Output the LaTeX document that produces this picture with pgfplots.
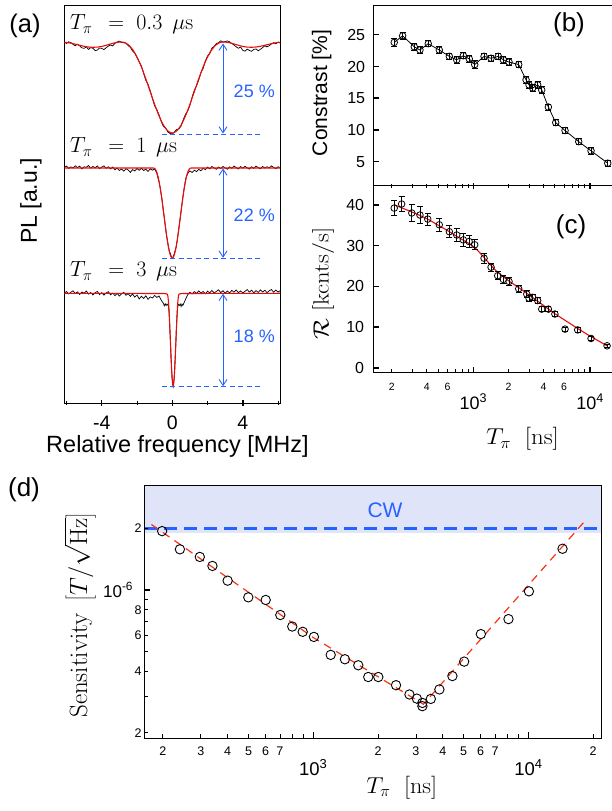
\RequirePackage{fix-cm}
\documentclass[border=0pt]{standalone}
\usepackage[no-math]{fontspec}
\setmainfont{Liberation Sans}
\usepackage{graphicx}
\usepackage{pgfplots}
\pgfplotsset{compat=1.18}
\usetikzlibrary{arrows.meta}
\definecolor{myblue}{RGB}{38,98,255}
\definecolor{cwfill}{RGB}{224,228,249}
\definecolor{fitred}{RGB}{235,10,10}
\definecolor{dashred}{RGB}{250,50,20}
\pgfplotsset{
 myax/.style={scale only axis, anchor=south west, axis line style={line width=0.9pt, black},
   tick style={black, line width=0.8pt}, tick label style={inner sep=0pt}},
}
\begin{document}
\begin{tikzpicture}[x=1pt,y=1pt]
\useasboundingbox (0,0) rectangle (611,811);

% ---------------- panel (a)
\begin{axis}[myax, at={(64pt,408pt)}, width=216pt, height=398pt,
 xmin=-6.14, xmax=6.11, ymin=-403, ymax=-5,
 xtick={-4,0,4}, xticklabels={-4,0,4}, minor xtick={-6,-2,2,6}, ytick=\empty,
 xtick pos=bottom, xtick align=center, major tick length=6pt, minor tick length=4pt,
 major tick style={line width=1.4pt}, minor tick style={line width=0.8pt},
 xticklabel style={font=\fontsize{19.5}{19.5}\selectfont}, xticklabel shift=10pt,
 clip=false]
\addplot[black, line width=0.7pt] coordinates {
(-6.12,-42.0) (-6.0,-43.5) (-5.875,-41.8) (-5.75,-42.6) (-5.625,-44.5) (-5.5,-45.7) (-5.375,-44.2) (-5.25,-45.8) (-5.125,-47.9) (-5.0,-48.3) (-4.875,-46.8) (-4.75,-49.5) (-4.625,-47.6) (-4.5,-48.3) (-4.375,-50.6) (-4.25,-50.1) (-4.125,-48.0) (-4.0,-48.4) (-3.875,-49.6) (-3.75,-47.8) (-3.625,-46.1) (-3.5,-45.0) (-3.375,-45.9) (-3.25,-43.3) (-3.125,-42.0) (-3.0,-41.1) (-2.875,-42.4) (-2.75,-42.8) (-2.625,-43.2) (-2.5,-45.6) (-2.375,-47.5) (-2.25,-51.0) (-2.125,-53.2) (-2.0,-57.5) (-1.875,-62.0) (-1.75,-66.0) (-1.625,-73.2) (-1.5,-80.4) (-1.375,-84.3) (-1.25,-90.7) (-1.125,-98.6) (-1.0,-105.9) (-0.875,-109.5) (-0.75,-114.9) (-0.625,-121.6) (-0.5,-126.6) (-0.375,-127.9) (-0.25,-132) (-0.125,-133.5) (0,-134) (0.125,-131.8) (0.25,-129.5) (0.375,-128.9) (0.5,-126.1) (0.625,-119.5) (0.75,-114.4) (0.875,-111.0) (1.0,-105.4) (1.125,-97.1) (1.25,-90.2) (1.375,-86.0) (1.5,-79.9) (1.625,-72.8) (1.75,-68.5) (1.875,-61.0) (2.0,-56) (2.125,-53.6) (2.25,-48) (2.375,-46.5) (2.5,-43.6) (2.625,-42.7) (2.75,-40.8) (2.875,-42.0) (3.0,-41.6) (3.125,-40.9) (3.25,-41.8) (3.375,-43.5) (3.5,-45) (3.625,-46.8) (3.75,-48.3) (3.875,-47.0) (4.0,-50.4) (4.125,-51.2) (4.25,-49.1) (4.375,-50.5) (4.5,-51.3) (4.625,-49.4) (4.75,-49) (4.875,-50.8) (5.0,-49.3) (5.125,-47.6) (5.25,-45.8) (5.375,-46.9) (5.5,-45.7) (5.625,-43.9) (5.75,-42.7) (5.875,-43.8) (6.0,-42.0) (6.11,-43.0)};
\addplot[fitred, line width=1.1pt, smooth] coordinates {
(-6.12,-42.3) (-6,-42.5) (-5.75,-43.2) (-5.5,-44.2) (-5.25,-45.3) (-5,-46.3) (-4.75,-47.0) (-4.5,-47.3) (-4.25,-47.1) (-4,-46.4) (-3.75,-45.3) (-3.5,-44.0) (-3.25,-42.8) (-3,-42.1) (-2.75,-42.3) (-2.5,-44.6) (-2.25,-49.5) (-2,-57.0) (-1.75,-67.0) (-1.5,-78.9) (-1.25,-91.7) (-1,-104.4) (-0.75,-115.9) (-0.5,-125.1) (-0.25,-131.0) (0,-133) (0.25,-131.0) (0.5,-125.1) (0.75,-115.9) (1,-104.4) (1.25,-91.7) (1.5,-78.9) (1.75,-67.0) (2,-57.0) (2.25,-49.5) (2.5,-44.6) (2.75,-42.3) (3,-42.1) (3.25,-42.8) (3.5,-44.0) (3.75,-45.3) (4,-46.4) (4.25,-47.1) (4.5,-47.3) (4.75,-47.0) (5,-46.3) (5.25,-45.3) (5.5,-44.2) (5.75,-43.2) (6,-42.5) (6.11,-42.3)};
\addplot[black, line width=0.7pt] coordinates {
(-6.12,-167.5) (-6.0,-166.0) (-5.875,-168.4) (-5.75,-166.9) (-5.625,-168.0) (-5.5,-165.8) (-5.375,-167.6) (-5.25,-166.2) (-5.125,-168.9) (-5.0,-166.7) (-4.875,-167.3) (-4.75,-165.5) (-4.625,-168.2) (-4.5,-166.4) (-4.375,-167.9) (-4.25,-166.0) (-4.125,-168.6) (-4.0,-167.1) (-3.875,-165.9) (-3.75,-168.3) (-3.625,-166.8) (-3.5,-168.9) (-3.375,-167.0) (-3.25,-169.8) (-3.125,-168.1) (-3.0,-170.5) (-2.875,-169.0) (-2.75,-171.2) (-2.625,-168.7) (-2.5,-170.0) (-2.375,-172.4) (-2.25,-169.6) (-2.125,-171.0) (-2.0,-168.5) (-1.875,-170.3) (-1.75,-168.2) (-1.625,-170.6) (-1.5,-169.1) (-1.375,-171.4) (-1.25,-168.9) (-1.125,-170.2) (-1.0,-169.0) (-0.94,-171.0) (-0.88,-173.0) (-0.82,-177.5) (-0.76,-181.2) (-0.7,-186.5) (-0.64,-193.0) (-0.58,-199.5) (-0.52,-209.0) (-0.46,-216.5) (-0.4,-225.0) (-0.34,-233.5) (-0.28,-240.0) (-0.22,-246.5) (-0.16,-251.5) (-0.1,-254.0) (-0.04,-257.5) (0.0,-258.5) (0.04,-257.0) (0.1,-254.5) (0.16,-250.8) (0.22,-247.0) (0.28,-240.5) (0.34,-232.5) (0.4,-224.5) (0.46,-217.0) (0.52,-208.0) (0.58,-200.5) (0.64,-192.0) (0.7,-185.5) (0.76,-179.0) (0.82,-175.5) (0.88,-173.5) (0.94,-172.0) (1.0,-170.8) (1.125,-172.5) (1.25,-170.2) (1.375,-171.6) (1.5,-169.4) (1.625,-170.8) (1.75,-168.3) (1.875,-169.7) (2.0,-167.2) (2.125,-168.9) (2.25,-166.5) (2.375,-168.0) (2.5,-169.3) (2.625,-167.1) (2.75,-168.5) (2.875,-166.4) (3.0,-168.0) (3.125,-169.2) (3.25,-166.9) (3.375,-168.3) (3.5,-166.0) (3.625,-167.7) (3.75,-169.0) (3.875,-166.6) (4.0,-168.1) (4.125,-166.3) (4.25,-167.9) (4.375,-169.1) (4.5,-166.8) (4.625,-168.4) (4.75,-166.2) (4.875,-167.6) (5.0,-168.8) (5.125,-166.5) (5.25,-168.0) (5.375,-166.7) (5.5,-167.9) (5.625,-165.9) (5.75,-167.4) (5.875,-168.6) (6.0,-166.8) (6.11,-167.5)};
\addplot[fitred, line width=1.1pt] coordinates {
(-6.12,-168) (-1.1,-168) (-1.037,-168.1) (-0.976,-168.8) (-0.915,-170.5) (-0.854,-173.5) (-0.793,-177.6) (-0.732,-182.9) (-0.671,-189.2) (-0.61,-196.4) (-0.549,-204.5) (-0.488,-212.9) (-0.427,-221.4) (-0.366,-229.8) (-0.305,-237.6) (-0.244,-244.5) (-0.183,-250.2) (-0.122,-254.5) (-0.061,-257.1) (0,-258) (0.061,-257.1) (0.122,-254.5) (0.183,-250.2) (0.244,-244.5) (0.305,-237.6) (0.366,-229.8) (0.427,-221.4) (0.488,-212.9) (0.549,-204.5) (0.61,-196.4) (0.671,-189.2) (0.732,-182.9) (0.793,-177.6) (0.854,-173.5) (0.915,-170.5) (0.976,-168.8) (1.037,-168.1) (1.1,-168) (6.11,-168)};
\addplot[black, line width=0.7pt] coordinates {
(-6.12,-293.0) (-6.0,-291.5) (-5.875,-294.0) (-5.75,-292.2) (-5.625,-290.8) (-5.5,-293.6) (-5.375,-291.9) (-5.25,-294.5) (-5.125,-292.0) (-5.0,-293.3) (-4.875,-291.0) (-4.75,-294.2) (-4.625,-292.5) (-4.5,-295.0) (-4.375,-292.8) (-4.25,-291.4) (-4.125,-294.6) (-4.0,-292.6) (-3.875,-295.2) (-3.75,-293.0) (-3.625,-291.7) (-3.5,-294.8) (-3.375,-293.1) (-3.25,-295.6) (-3.125,-293.4) (-3.0,-296.0) (-2.875,-293.8) (-2.75,-292.4) (-2.625,-295.3) (-2.5,-293.7) (-2.375,-296.4) (-2.25,-294.0) (-2.125,-297.2) (-2.0,-295.0) (-1.875,-299.0) (-1.75,-296.2) (-1.625,-298.5) (-1.5,-295.8) (-1.375,-299.4) (-1.25,-296.9) (-1.125,-298.0) (-1.0,-295.5) (-0.875,-297.4) (-0.75,-296.0) (-0.625,-300.2) (-0.5,-303.5) (-0.45,-305.8) (-0.4,-303.8) (-0.35,-305.5) (-0.3,-304.0) (-0.25,-305.2) (-0.22,-306.0) (-0.19,-310.0) (-0.16,-318.5) (-0.13,-331.5) (-0.10,-343.0) (-0.07,-357.5) (-0.04,-367.0) (-0.01,-378.0) (0.02,-383.5) (0.05,-386.5) (0.08,-383.0) (0.11,-377.5) (0.14,-367.5) (0.17,-356.5) (0.20,-344.5) (0.23,-330.5) (0.26,-319.5) (0.29,-310.0) (0.32,-305.5) (0.35,-304.5) (0.4,-305.5) (0.45,-304.0) (0.5,-306.5) (0.55,-304.0) (0.6,-305.5) (0.7,-301.5) (0.8,-297.5) (0.875,-294.8) (1.0,-292.3) (1.125,-294.0) (1.25,-291.6) (1.375,-293.5) (1.5,-290.9) (1.625,-293.2) (1.75,-291.5) (1.875,-293.9) (2.0,-291.2) (2.125,-292.8) (2.25,-290.5) (2.375,-293.0) (2.5,-291.4) (2.625,-289.8) (2.75,-292.6) (2.875,-290.7) (3.0,-293.1) (3.125,-291.0) (3.25,-292.9) (3.375,-290.4) (3.5,-292.2) (3.625,-290.0) (3.75,-292.7) (3.875,-290.9) (4.0,-293.0) (4.125,-291.3) (4.25,-289.6) (4.375,-292.1) (4.5,-290.2) (4.625,-292.8) (4.75,-290.6) (4.875,-292.4) (5.0,-289.9) (5.125,-292.0) (5.25,-290.3) (5.375,-292.6) (5.5,-290.8) (5.625,-289.5) (5.75,-292.3) (5.875,-290.1) (6.0,-292.0) (6.11,-290.8)};
\addplot[fitred, line width=1.1pt] coordinates {
(-6.12,-293.3) (-0.45,-293.5) (-0.35,-293.8) (-0.28,-294.2) (-0.25,-295.9) (-0.22,-300.9) (-0.19,-308.6) (-0.16,-318.8) (-0.13,-330.9) (-0.10,-343.9) (-0.07,-356.9) (-0.04,-369.0) (-0.01,-377.9) (0.02,-383.5) (0.05,-386) (0.08,-383.5) (0.11,-377.9) (0.14,-369.0) (0.17,-356.9) (0.20,-343.9) (0.23,-330.9) (0.26,-318.8) (0.29,-308.6) (0.32,-300.9) (0.35,-295.9) (0.38,-294.2) (0.45,-293.8) (0.55,-293.5) (6.11,-293.3)};
% contrast arrows
\addplot[myblue, line width=0.9pt, dash pattern=on 5pt off 3.5pt] coordinates {(-0.59,-134) (5.14,-134)};
\addplot[myblue, line width=0.9pt, dash pattern=on 5pt off 3.5pt] coordinates {(-0.59,-258.3) (5.14,-258.3)};
\addplot[myblue, line width=0.9pt, dash pattern=on 5pt off 3.5pt] coordinates {(-0.59,-386.7) (5.14,-386.7)};
\draw[myblue, line width=0.9pt, {Straight Barb[length=6pt,width=8pt]}-{Straight Barb[length=6pt,width=8pt]}] (axis cs:2.88,-43.5) -- (axis cs:2.88,-133.5);
\draw[myblue, line width=0.9pt, {Straight Barb[length=6pt,width=8pt]}-{Straight Barb[length=6pt,width=8pt]}] (axis cs:2.88,-168.5) -- (axis cs:2.88,-257.8);
\draw[myblue, line width=0.9pt, {Straight Barb[length=6pt,width=8pt]}-{Straight Barb[length=6pt,width=8pt]}] (axis cs:2.88,-293.8) -- (axis cs:2.88,-386.2);
\node[myblue, font=\fontsize{18}{18}\selectfont] at (axis cs:4.65,-91.7) {25 \%};
\node[myblue, font=\fontsize{18}{18}\selectfont] at (axis cs:4.65,-215) {22 \%};
\node[myblue, font=\fontsize{18}{18}\selectfont] at (axis cs:4.65,-336.7) {18 \%};
\end{axis}
\node[anchor=base west, font=\fontsize{22}{22}\selectfont, inner sep=0pt] at (70pt,781pt) {$T_\pi\;\,=\;0.3\ \,\mu\mathrm{s}$};
\node[anchor=base west, font=\fontsize{22}{22}\selectfont, inner sep=0pt] at (70pt,658pt) {$T_\pi\;\,=\;1\ \,\mu\mathrm{s}$};
\node[anchor=base west, font=\fontsize{22}{22}\selectfont, inner sep=0pt] at (70pt,534pt) {$T_\pi\;\,=\;3\ \,\mu\mathrm{s}$};
\node[font=\fontsize{23}{23}\selectfont, rotate=90] at (31pt,610pt) {PL [a.u.]};
\node[font=\fontsize{23.5}{23.5}\selectfont] at (177.5pt,365pt) {Relative frequency [MHz]};
\node[font=\fontsize{25.5}{25.5}\selectfont] at (25pt,784.7pt) {(a)};

% ---------------- panel (b)
\begin{axis}[myax, at={(373.3pt,625.3pt)}, width=239.7pt, height=180.7pt,
 xmode=log, xmin=139, xmax=15740, ymin=1.2, ymax=29.7,
 xtick={1000,10000}, xticklabels={}, minor xtick={200,300,400,500,600,700,800,900,2000,3000,4000,5000,6000,7000,8000,9000},
 ytick={5,10,15,20,25}, yticklabels={5,10,15,20,25},
 xtick pos=bottom, ytick pos=left, xtick align=center, ytick align=inside,
 major tick length=6pt, minor tick length=4pt,
 major tick style={line width=1.4pt}, minor tick style={line width=0.8pt},
 yticklabel style={font=\fontsize{16}{16}\selectfont}, yticklabel shift=8pt,
 clip=false]
\addplot[black, line width=0.8pt, mark=o, mark size=3.3pt, mark options={fill=white, line width=0.8pt},
 error bars/.cd, y dir=both, y explicit, error bar style={line width=0.8pt, black},
 error mark options={rotate=90, mark size=3pt, line width=0.8pt, black}] coordinates {
(210,23.8) +- (0,0.6) (248,24.84) +- (0,0.6) (312,23.1) +- (0,0.5) (349,22.6) +- (0,0.5) (411,23.6) +- (0,0.5) (511,22.6) +- (0,0.5) (623,21.6) +- (0,0.5) (721,21.05) +- (0,0.6) (821,21.7) +- (0,0.5) (924,21.2) +- (0,0.5) (1028,20.3) +- (0,0.6) (1236,21.6) +- (0,0.5) (1419,21.3) +- (0,0.5) (1638,21.6) +- (0,0.5) (1808,21.05) +- (0,0.5) (2023,20.7) +- (0,0.5) (2449,20.3) +- (0,0.5) (2830,17.9) +- (0,0.5) (3000,17.1) +- (0,0.5) (3228,16.6) +- (0,0.5) (3562,17.1) +- (0,0.5) (3857,16.3) +- (0,0.5) (4397,13.6) +- (0,0.5) (5083,11.15) +- (0,0.5) (6109,9.9) +- (0,0.5) (8000,8.15) +- (0,0.5) (10200,6.7) +- (0,0.5) (14190,4.75) +- (0,0.5)};
\end{axis}
\node[font=\fontsize{21}{21}\selectfont, rotate=90] at (321.7pt,718pt) {Constrast [\%]};
\node[font=\fontsize{26}{26}\selectfont] at (569pt,786pt) {(b)};

% ---------------- panel (c)
\begin{axis}[myax, at={(373.3pt,438.3pt)}, width=239.7pt, height=187pt,
 xmode=log, xmin=139, xmax=15740, ymin=-1.2, ymax=44.7,
 xtick={1000,10000}, xticklabels={10\textsuperscript{3},10\textsuperscript{4}},
 minor xtick={300,500,700,800,900,3000,5000,7000,8000,9000},
 extra x ticks={200,400,600,2000,4000,6000}, extra x tick labels={2,4,6,2,4,6},
 extra x tick style={xticklabel shift=10pt, major tick length=4pt, major tick style={line width=0.8pt},
   xticklabel style={font=\fontsize{10.5}{10.5}\selectfont}},
 ytick={0,10,20,30,40}, yticklabels={0,10,20,30,40},
 xtick pos=bottom, ytick pos=left, xtick align=inside, ytick align=inside,
 major tick length=6pt, minor tick length=4pt,
 major tick style={line width=1.4pt}, minor tick style={line width=0.8pt},
 xticklabel style={font=\fontsize{18}{18}\selectfont}, xticklabel shift=21pt,
 yticklabel style={font=\fontsize{16}{16}\selectfont}, yticklabel shift=9pt,
 clip=false]
\addplot[fitred, line width=1.1pt, smooth] coordinates {
(210,40.0) (300,38.2) (400,36.6) (500,35.0) (600,33.7) (700,32.5) (800,31.5) (1000,29.8) (1200,27.5) (1400,25.3) (1600,23.6) (2000,21.4) (2500,19.5) (3000,17.9) (4000,15.3) (5000,13.3) (6000,11.8) (8000,9.5) (10000,7.8) (14000,5.4)};
\addplot[black, only marks, mark=o, mark size=3.3pt, mark options={fill=white, line width=0.8pt},
 error bars/.cd, y dir=both, y explicit, error bar style={line width=0.8pt, black},
 error mark options={rotate=90, mark size=3pt, line width=0.8pt, black}] coordinates {
(210,39.2) +- (0,1.9) (243,40.2) +- (0,1.9) (297,38.0) +- (0,2.0) (349,37.5) +- (0,2.0) (407,36.5) +- (0,1.5) (511,35.1) +- (0,1.5) (623,33.4) +- (0,1.5) (721,32.6) +- (0,1.5) (821,31.4) +- (0,1.5) (920,31.0) +- (0,1.4) (1028,30.2) +- (0,1.2) (1236,26.9) +- (0,1.2) (1419,24.7) +- (0,1.0) (1618,22.6) +- (0,1.0) (1808,21.7) +- (0,0.9) (2023,21.2) +- (0,0.9) (2449,19.4) +- (0,0.8) (2870,18.1) +- (0,0.8) (3000,17.1) +- (0,0.7) (3228,17.3) +- (0,0.7) (3562,16.5) +- (0,0.7) (3857,14.4) +- (0,0.6) (4397,14.4) +- (0,0.6) (5000,13.2) +- (0,0.6) (6109,9.5) +- (0,0.5) (7840,9.3) +- (0,0.5) (10200,7.2) +- (0,0.5) (14000,5.4) +- (0,0.4)};
\end{axis}
\node[font=\fontsize{22}{22}\selectfont, rotate=90] at (323pt,527.5pt) {\scalebox{1.12}[1]{$\mathcal{R}\ [\mathrm{kcnts/s}]$}};
\node[font=\fontsize{23}{23}\selectfont] at (522.5pt,372pt) {\scalebox{1.08}[1]{$T_\pi\;\;[\mathrm{ns}]$}};
\node[font=\fontsize{26}{26}\selectfont] at (571pt,584.3pt) {(c)};

% ---------------- panel (d)
\begin{axis}[myax, at={(144.3pt,72.7pt)}, width=457.4pt, height=253.3pt,
 xmode=log, ymode=log, xmin=164, xmax=21900, ymin=1.88e-7, ymax=3.26e-6,
 xtick={1000,10000}, xticklabels={10\textsuperscript{3},10\textsuperscript{4}},
 minor xtick={800,900,8000,9000},
 extra x ticks={200,300,400,500,600,700,2000,3000,4000,5000,6000,7000,20000},
 extra x tick labels={2,3,4,5,6,7,2,3,4,5,6,7,2},
 extra x tick style={xticklabel shift=8pt, major tick length=4pt, major tick style={line width=0.8pt},
   xticklabel style={font=\fontsize{12.5}{12.5}\selectfont}},
 ytick={1e-6}, yticklabels={10\textsuperscript{-6}},
 minor ytick={3e-7,5e-7,7e-7,9e-7},
 extra y ticks={2e-7,4e-7,6e-7,8e-7,2e-6}, extra y tick labels={2,4,6,8,2},
 extra y tick style={yticklabel shift=2.5pt, major tick length=4pt, major tick style={line width=0.8pt},
   yticklabel style={font=\fontsize{12.5}{12.5}\selectfont}},
 xtick pos=bottom, ytick pos=left, tick align=inside,
 major tick length=6pt, minor tick length=4pt,
 major tick style={line width=1.4pt}, minor tick style={line width=0.8pt},
 xticklabel style={font=\fontsize{18.5}{18.5}\selectfont}, xticklabel shift=21pt,
 yticklabel style={font=\fontsize{17}{17}\selectfont}, yticklabel shift=11pt,
 axis on top, clip=true]
\addplot[draw=none, fill=cwfill] coordinates {(164,1.9e-6) (21900,1.9e-6) (21900,3.26e-6) (164,3.26e-6)} -- cycle;
\addplot[myblue, line width=2.6pt, dash pattern=on 13pt off 7pt] coordinates {(164,2e-6) (21900,2e-6)};
\addplot[dashred, line width=1.2pt, dash pattern=on 8pt off 6pt] coordinates {(177,2.09e-6) (1000,5.85e-7) (3251,2.76e-7) (18700,2.23e-6)};
\addplot[black, only marks, mark=o, mark size=4.7pt, mark options={fill=white, line width=0.9pt}] coordinates {
(198.5,1.94e-6) (240,1.58e-6) (297,1.45e-6) (340,1.31e-6) (400,1.11e-6) (499,9.2e-7) (601,8.93e-7) (703,7.54e-7) (799,6.62e-7) (893,6.24e-7) (1007,5.89e-7) (1205,4.81e-7) (1403,4.58e-7) (1619,4.28e-7) (1801,3.75e-7) (2006,3.75e-7) (2425,3.42e-7) (2799,3.08e-7) (3029,2.94e-7) (3215,2.80e-7) (3215,2.70e-7) (3518,2.93e-7) (3857,3.26e-7) (4432,3.79e-7) (5027,4.46e-7) (6010,6.08e-7) (8075,7.2e-7) (10050,9.84e-7) (14400,1.59e-6)};
\end{axis}
\node[myblue, font=\fontsize{21}{21}\selectfont] at (385pt,301pt) {CW};
\node[font=\fontsize{25}{25}\selectfont, rotate=90] at (80pt,196pt) {$\mathrm{Sensitivity}\ \left[T/\sqrt{\mathrm{Hz}}\right]$};
\node[font=\fontsize{23}{23}\selectfont] at (401.7pt,23.5pt) {\scalebox{1.05}[1]{$T_\pi\;\;[\mathrm{ns}]$}};
\node[font=\fontsize{26}{26}\selectfont] at (24pt,321pt) {(d)};
\end{tikzpicture}
\end{document}
